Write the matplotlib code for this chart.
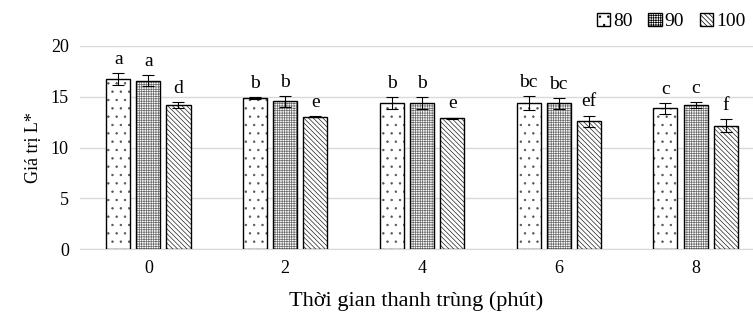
import matplotlib
matplotlib.use('Agg')
import matplotlib.pyplot as plt
import numpy as np

plt.rcParams['font.family'] = ['Liberation Serif', 'DejaVu Serif']
plt.rcParams['hatch.linewidth'] = 0.5

times = ['0', '2', '4', '6', '8']
temps = ['80', '90', '100']

l_80 = [16.75, 14.9, 14.35, 14.35, 13.85]
l_90 = [16.6, 14.55, 14.35, 14.35, 14.2]
l_100 = [14.2, 13.05, 12.9, 12.6, 12.15]

err_80 = [0.55, 0.1, 0.6, 0.7, 0.55]
err_90 = [0.5, 0.55, 0.6, 0.55, 0.3]
err_100 = [0.3, 0.05, 0.05, 0.55, 0.65]

lab_80 = ['a', 'b', 'b', 'bc', 'c']
lab_90 = ['a', 'b', 'b', 'bc', 'c']
lab_100 = ['d', 'e', 'e', 'ef', 'f']

series = [l_80, l_90, l_100]
errors = [err_80, err_90, err_100]
labels = [lab_80, lab_90, lab_100]
bs = chr(92)
hatches = ['..', '+' * 7, bs * 7]
hcolors = ['#555555', '#6a6a6a', '#222222']

fig = plt.figure(figsize=(7.53, 3.22), dpi=100)
ax = fig.add_axes([80 / 753, (322 - 249) / 322, 673 / 753, 203 / 322])

x = np.arange(len(times))
w = 0.176
step = 0.22
for i in range(3):
    xs = x + (i - 1) * step
    # hatch layer, then black outline on top
    ax.bar(xs, series[i], width=w, color='white', edgecolor=hcolors[i],
           linewidth=0, hatch=hatches[i], zorder=3)
    ax.bar(xs, series[i], width=w, fill=False, edgecolor='black',
           linewidth=1.0, zorder=3)
    ax.bar([0], [0], width=0, color='white', edgecolor='black', linewidth=1.0,
           hatch=hatches[i], label=temps[i])
    ax.errorbar(xs, series[i], yerr=errors[i], fmt='none', ecolor='black',
                elinewidth=0.8, capsize=4, capthick=0.8, zorder=4)
    for xi, v, e, t in zip(xs, series[i], errors[i], labels[i]):
        ax.text(xi, v + e + 0.5, t, ha='center', va='bottom', fontsize=14)

ax.set_xlim(-0.5, 4.42)
ax.set_ylim(0, 20)
ax.set_yticks([0, 5, 10, 15, 20])
ax.set_xticks(x)
ax.set_xticklabels(times)
ax.tick_params(axis='both', length=0, labelsize=13, pad=8)
ax.grid(axis='y', color='#d9d9d9', linewidth=1, zorder=0)
for s in ['top', 'right', 'left']:
    ax.spines[s].set_visible(False)
ax.spines['bottom'].set_color('#d9d9d9')
ax.set_ylabel('Giá trị L*', fontsize=13, labelpad=6)
ax.set_xlabel('Thời gian thanh trùng (phút)', fontsize=16, labelpad=10)

ax.legend(loc='upper right', bbox_to_anchor=(1.015, 1.25), ncol=3, frameon=False,
          fontsize=14, handlelength=0.7, handleheight=0.7, handletextpad=0.15,
          columnspacing=0.8)

fig.savefig('out.png', dpi=100)
